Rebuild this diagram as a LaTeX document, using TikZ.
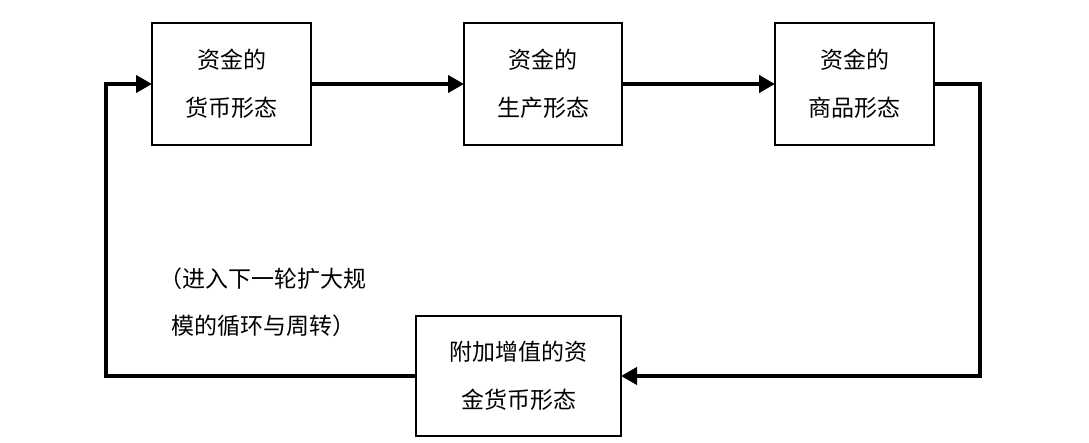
\documentclass[tikz,border=0pt]{standalone}
\usepackage{fontspec}
\newfontfamily\cjk{Noto Sans CJK SC}
\usetikzlibrary{arrows.meta}
\begin{document}
\begin{tikzpicture}[x=1pt,y=1pt,
  formbox/.style={draw,line width=2pt,outer sep=0pt,inner sep=0pt,align=center,
    font=\cjk\fontsize{23}{48}\selectfont},
  flow/.style={line width=4pt,-{Triangle[length=16pt,width=17pt]}},
  note/.style={align=center,font=\cjk\fontsize{23}{47}\selectfont}]
\useasboundingbox (0,0) rectangle (1089,-443);
\node[formbox,minimum width=159pt,minimum height=122pt] (b1) at (231.5,-84) {资金的\\货币形态};
\node[formbox,minimum width=158pt,minimum height=122pt] (b2) at (543,-84) {资金的\\生产形态};
\node[formbox,minimum width=159pt,minimum height=122pt] (b3) at (854.5,-84) {资金的\\商品形态};
\node[formbox,minimum width=205pt,minimum height=120pt] (b4) at (518.5,-376) {附加增值的资\\金货币形态};
\node[note] (lbl) at (263,-302) {（进入下一轮扩大规\\模的循环与周转）};
\coordinate (cr) at (980,-230);
\coordinate (cl) at (106,-230);
\draw[flow] (b1.east) -- (b2.west);
\draw[flow] (b2.east) -- (b3.west);
\draw[flow] (b3.east) -| (cr) |- (b4.east);
\draw[flow] (b4.west) -| (cl) |- (b1.west);
\end{tikzpicture}
\end{document}
